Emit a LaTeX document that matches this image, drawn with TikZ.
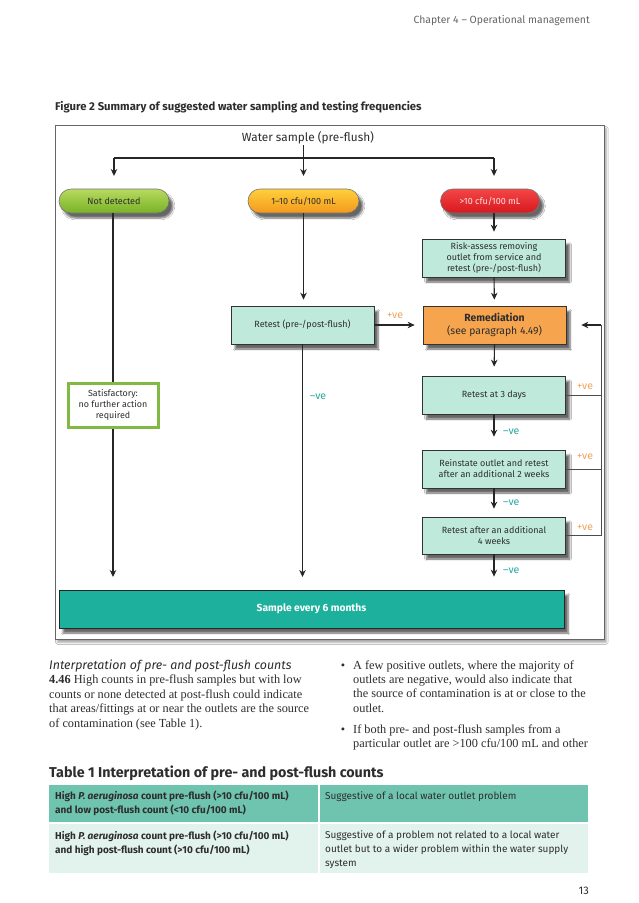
\documentclass[tikz,border=0pt]{standalone}
\usepackage{fontspec}
\setmainfont{Liberation Serif}
\setsansfont{Fira Sans}
\usetikzlibrary{arrows.meta,calc,shadows.blur}
\definecolor{boxteal}{RGB}{190,233,219}
\definecolor{remedcol}{RGB}{246,165,78}
\definecolor{sampleteal}{RGB}{29,176,156}
\definecolor{poscol}{RGB}{241,163,90}
\definecolor{negcol}{RGB}{37,168,160}
\definecolor{gtop}{RGB}{184,218,96}
\definecolor{gbot}{RGB}{120,178,38}
\definecolor{otop}{RGB}{254,208,60}
\definecolor{obot}{RGB}{244,152,28}
\definecolor{rtop}{RGB}{244,70,70}
\definecolor{rbot}{RGB}{214,24,30}
\definecolor{satgreen}{RGB}{129,185,67}
\definecolor{trow1}{RGB}{111,196,176}
\definecolor{trow2}{RGB}{226,243,238}
\definecolor{txt}{RGB}{45,45,45}
\begin{document}
\begin{tikzpicture}[x=1pt,y=-1pt,
  shad/.style={blur shadow={shadow xshift=4pt,shadow yshift=-5pt,shadow blur steps=6,shadow opacity=60}},
  pill/.style={shad,rounded corners=12pt,minimum height=24pt,inner sep=0pt,draw=black!55,line width=0.6pt,
    font=\sffamily\fontsize{9}{11}\selectfont,text=txt},
  box/.style={shad,draw=black!80,line width=0.7pt,fill=boxteal,minimum width=143pt,minimum height=38pt,
    inner sep=0pt,align=center,font=\sffamily\fontsize{9}{11}\selectfont,text=txt},
  arr/.style={-{Stealth[length=7pt,width=6.5pt]},line width=1.1pt,black!85},
  plainline/.style={line width=1.1pt,black!85},
  loopline/.style={line width=0.8pt,black!70},
  poslab/.style={font=\sffamily\fontsize{10.5}{12}\selectfont,text=poscol,inner sep=0pt},
  neglab/.style={font=\sffamily\fontsize{10.5}{12}\selectfont,text=negcol,inner sep=0pt},
  bodytext/.style={inner sep=0pt,align=left,font=\fontsize{12.3}{14.4}\selectfont,text=txt},
  celltext/.style={inner sep=0pt,align=left,font=\sffamily\fontsize{10}{14}\selectfont,text=txt}
]
\useasboundingbox (0,0) rectangle (638,903);
\fill[white] (0,0) rectangle (638,903);
\node[draw=black!60,line width=0.8pt,fill=white,minimum width=549pt,minimum height=514pt,anchor=north west,
  blur shadow={shadow xshift=2pt,shadow yshift=-3pt,shadow blur steps=5,shadow opacity=35}] (frame) at (55,125) {};

% header and caption
\node[anchor=base east,inner sep=0pt,font=\sffamily\fontsize{10.4}{12}\selectfont,text=black!60] (hdr) at (590,23) {Chapter 4 – Operational management};
\node[anchor=base west,inner sep=0pt,font=\sffamily\bfseries\fontsize{11.3}{13}\selectfont,text=txt] (cap) at (55,110) {Figure 2 Summary of suggested water sampling and testing frequencies};

% diagram nodes
\node[inner sep=1pt,font=\sffamily\fontsize{11.8}{14}\selectfont,text=txt] (ws) at (308,138) {Water sample (pre-flush)};
\node[pill,minimum width=110pt,top color=gtop,bottom color=gbot] (nd) at (114,201) {Not detected};
\node[pill,minimum width=111pt,top color=otop,bottom color=obot] (mid) at (303.5,201) {1–10 cfu/100 mL};
\node[pill,minimum width=99pt,top color=rtop,bottom color=rbot,text=white!90!red] (red) at (490,201) {>10 cfu/100 mL};
\node[box] (risk) at (494,258) {Risk-assess removing\\outlet from service and\\retest (pre-/post-flush)};
\node[box] (retest) at (302.5,325) {Retest (pre-/post-flush)};
\node[box,fill=remedcol,font=\sffamily\fontsize{10.4}{13}\selectfont] (remed) at (494.5,325) {\textbf{Remediation}\\(see paragraph 4.49)};
\node[draw=satgreen,line width=3pt,fill=white,minimum width=90pt,minimum height=44pt,inner sep=0pt,align=center,
  font=\sffamily\fontsize{8.9}{11}\selectfont,text=txt] (sat) at (113,405) {Satisfactory:\\no further action\\required};
\node[box] (r3) at (494,395) {Retest at 3 days};
\node[box] (rein) at (494,469) {Reinstate outlet and retest\\after an additional 2 weeks};
\node[box,minimum height=37pt] (r4) at (494,535.5) {Retest after an additional\\4 weeks};
\node[shad,draw=black!85,line width=0.8pt,fill=sampleteal,minimum width=505pt,minimum height=38pt,inner sep=0pt,
  font=\sffamily\bfseries\fontsize{10.3}{12}\selectfont,text=white] (sample) at (311.5,609) {Sample every 6 months};

% labels
\node[poslab] (p1) at (395,316) {+ve};
\node[neglab] (n1) at (318,397) {–ve};
\node[poslab] (p2) at (585,387) {+ve};
\node[poslab] (p3) at (585,457) {+ve};
\node[poslab] (p4) at (585,528) {+ve};
\node[neglab,anchor=west] (n2) at (503,432) {–ve};
\node[neglab,anchor=west] (n3) at (503,503) {–ve};
\node[neglab,anchor=west] (n4) at (503,571) {–ve};

% connectors
\coordinate (tl) at (114,158);
\coordinate (tr) at (494,158);
\coordinate (al) at (114,176);
\coordinate (am) at (303.5,176);
\coordinate (ar) at (494,176);
\coordinate (e1) at (113,577);
\coordinate (e2) at (302.5,577);
\coordinate (lp) at (601,325);
\draw[plainline] (tl) -- (tr);
\draw[arr] (ws.south -| am) -- (am);
\draw[arr] (tl) -- (al);
\draw[arr] (tr) -- (ar);
\draw[plainline] (nd.south -| sat.north) -- (sat.north);
\draw[arr] (sat.south) -- (e1);
\draw[arr,shorten >=6pt] (mid.south) -- (mid.south |- retest.north);
\draw[arr] (retest.south) -- (e2);
\draw[arr,shorten >=7pt] (red.south -| risk.north) -- (risk.north);
\draw[arr,shorten >=6pt] (risk.south) -- (remed.north);
\draw[arr,shorten >=9pt] (remed.south) -- (r3.north);
\draw[arr,shorten >=13pt] (r3.south) -- (rein.north);
\draw[arr,shorten >=8pt] (rein.south) -- (r4.north);
\draw[arr,shorten >=13pt] (r4.south) -- (r4.south |- sample.north);
\draw[arr,shorten >=8pt] (retest.east) -- (remed.west);
\draw[loopline] (r3.east) -- (r3.east -| lp);
\draw[loopline] (rein.east) -- (rein.east -| lp);
\draw[loopline] (r4.east) -- (r4.east -| lp) -- (lp);
\draw[arr,shorten >=15pt] (lp) -- (remed.east);

% body text
\node[bodytext,anchor=base west] (left) at (49,727) {{\sffamily\itshape\fontsize{12.4}{14.4}\selectfont Interpretation of pre- and post-flush counts}\\
\textbf{4.46} High counts in pre-flush samples but with low\\
counts or none detected at post-flush could indicate\\
that areas/fittings at or near the outlets are the source\\
of contamination (see Table 1).};
\node[bodytext,anchor=base west] (right) at (353,747.6) {\llap{•\hspace{8pt}}A few positive outlets, where the majority of\\
outlets are negative, would also indicate that\\
the source of contamination is at or close to the\\
outlet.\\[6.6pt]
\llap{•\hspace{8pt}}If both pre- and post-flush samples from a\\
particular outlet are >100 cfu/100 mL and other};

% table
\node[anchor=base west,inner sep=0pt,font=\sffamily\bfseries\fontsize{14.3}{16}\selectfont,text=txt] (ttl) at (49,777) {Table 1 Interpretation of pre- and post-flush counts};
\node[fill=trow1,minimum width=269pt,minimum height=37pt,inner sep=0pt,anchor=north west] (c11) at (49,785) {};
\node[fill=trow1,minimum width=268pt,minimum height=37pt,inner sep=0pt,anchor=north west] (c12) at (320,785) {};
\node[fill=trow2,minimum width=269pt,minimum height=49pt,inner sep=0pt,anchor=north west] (c21) at (49,824) {};
\node[fill=trow2,minimum width=268pt,minimum height=49pt,inner sep=0pt,anchor=north west] (c22) at (320,824) {};
\node[celltext,anchor=base west,font=\sffamily\bfseries\fontsize{10}{14}\selectfont] (t11) at (55,813) {High \textit{P. aeruginosa} count pre-flush (>10 cfu/100 mL)\\and low post-flush count (<10 cfu/100 mL)};
\node[celltext,anchor=base west] (t12) at (325,799) {Suggestive of a local water outlet problem};
\node[celltext,anchor=base west,font=\sffamily\bfseries\fontsize{10}{14}\selectfont] (t21) at (55,853) {High \textit{P. aeruginosa} count pre-flush (>10 cfu/100 mL)\\and high post-flush count (>10 cfu/100 mL)};
\node[celltext,anchor=base west] (t22) at (325,866) {Suggestive of a problem not related to a local water\\outlet but to a wider problem within the water supply\\system};
\node[anchor=base east,inner sep=0pt,font=\sffamily\fontsize{11}{13}\selectfont,text=txt] (pg) at (589,894) {13};
\end{tikzpicture}
\end{document}
